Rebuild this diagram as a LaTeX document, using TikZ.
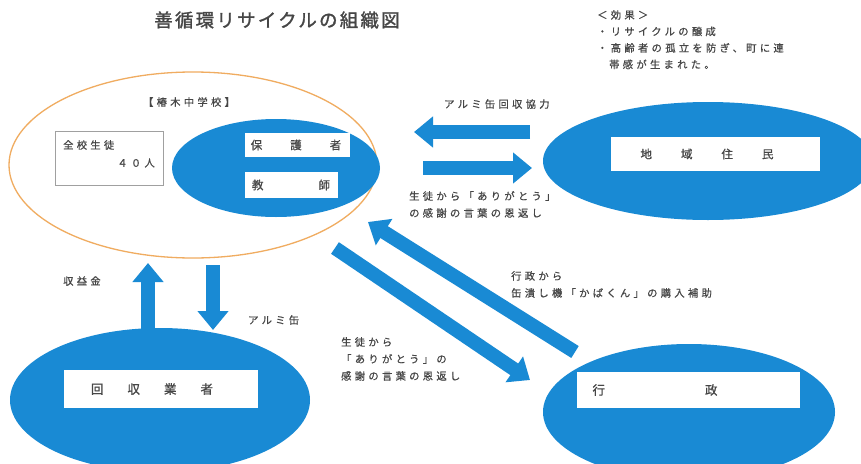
\documentclass[tikz,border=0pt]{standalone}
\usepackage{fontspec}
\setmainfont{Noto Sans CJK JP}
\usetikzlibrary{shapes.geometric,arrows.meta}
\definecolor{fillblue}{RGB}{25,138,212}
\definecolor{ringorange}{RGB}{240,172,96}
\definecolor{txtgray}{RGB}{70,70,70}
\definecolor{boxgray}{RGB}{160,160,160}
\begin{document}
\begin{tikzpicture}[x=1pt,y=-1pt,
  blob/.style={ellipse, fill=fillblue, draw=none, inner sep=0pt},
  wbox/.style={fill=white, draw=none, inner sep=0pt},
  small/.style={font=\fontsize{10.3}{17}\selectfont\addfontfeatures{LetterSpace=32,FakeBold=0.6}, text=txtgray, inner sep=0pt},
  boxtext/.style={font=\fontsize{11.5}{13}\selectfont\addfontfeatures{FakeBold=0.8}, text=txtgray, inner sep=0pt},
  fat/.style={line width=14pt, draw=fillblue, -{Triangle[length=19pt,width=30pt]}}]
\useasboundingbox (0,0) rectangle (861,463);
\fill[white] (0,0) rectangle (861,463);
\clip (0,0) rectangle (861,463);

% title and effects
\node[font=\fontsize{18.5}{20}\selectfont\addfontfeatures{LetterSpace=12,FakeBold=1.5}, text=txtgray, inner sep=0pt] (title) at (277,20) {善循環リサイクルの組織図};
\node[small, anchor=north west, align=left, font=\fontsize{10.3}{16.5}\selectfont\addfontfeatures{LetterSpace=32,FakeBold=0.6}] (effects) at (597,10) {＜効果＞\\・リサイクルの醸成\\・高齢者の孤立を防ぎ、町に連\\\hspace*{12pt}帯感が生まれた。};

% school
\node[ellipse, draw=ringorange, line width=1.3pt, minimum width=368pt, minimum height=186pt, inner sep=0pt] (school) at (193,165) {};
\node[small] (schoolname) at (189,102) {【椿木中学校】};
\node[draw=boxgray, line width=1pt, fill=white, minimum width=108pt, minimum height=54pt, inner sep=0pt] (allbox) at (109,158) {};
\node[small, anchor=west] (allstu) at (63,145) {全校生徒};
\node[small, anchor=east] (forty) at (155,163) {４０人};
\node[blob, minimum width=208pt, minimum height=98pt] (core) at (276,168) {};
\node[wbox, minimum width=105pt, minimum height=24pt] (parentbox) at (297.5,145) {};
\node[boxtext] (parents) at (296,145) {保\hspace{28pt}護\hspace{28pt}者};
\node[wbox, minimum width=93pt, minimum height=26pt] (teacherbox) at (291.5,185) {};
\node[boxtext] (teacher) at (291,185) {教\hspace{55pt}師};

% community
\node[blob, minimum width=330pt, minimum height=118pt] (comm) at (708,161) {};
\node[wbox, minimum width=209pt, minimum height=34pt] (commbox) at (715.5,154) {};
\node[boxtext] (commtext) at (707,154) {地\hspace{29pt}域\hspace{29pt}住\hspace{29pt}民};

% collector
\node[blob, minimum width=300pt, minimum height=144pt] (coll) at (160,400) {};
\node[wbox, minimum width=194pt, minimum height=38pt] (collbox) at (161,389) {};
\node[boxtext, font=\fontsize{12.5}{14}\selectfont\addfontfeatures{FakeBold=0.8}] (colltext) at (152,389) {回\hspace{24pt}収\hspace{24pt}業\hspace{24pt}者};

% government
\node[blob, minimum width=292pt, minimum height=136pt] (gov) at (689,412) {};
\node[wbox, minimum width=223pt, minimum height=36pt] (govbox) at (688.5,390) {};
\node[boxtext, font=\fontsize{12.5}{14}\selectfont\addfontfeatures{FakeBold=0.8}] (govtext) at (655,390) {行\hspace{100pt}政};

% arrows
\coordinate (a1s) at (530,132); \coordinate (a1e) at (414,132);
\coordinate (a2s) at (423,168); \coordinate (a2e) at (532,168);
\coordinate (a3s) at (148,330); \coordinate (a3e) at (148,263);
\coordinate (a4s) at (213,265); \coordinate (a4e) at (213,330);
\coordinate (a5s) at (575,352); \coordinate (a5e) at (368,222);
\coordinate (a6s) at (335,248); \coordinate (a6e) at (530,380);
\draw[fat] (a1s) -- (a1e);
\draw[fat] (a2s) -- (a2e);
\draw[fat] (a3s) -- (a3e);
\draw[fat] (a4s) -- (a4e);
\draw[fat] (a5s) -- (a5e);
\draw[fat] (a6s) -- (a6e);

% labels
\node[small, anchor=west] (lab1) at (444,104) {アルミ缶回収協力};
\node[small, anchor=north west, align=left] (lab2) at (409,191) {生徒から「ありがとう」\\の感謝の言葉の恩返し};
\node[small, anchor=north west, align=left] (lab3) at (511,271) {行政から\\缶潰し機「かばくん」の購入補助};
\node[small, anchor=north west, align=left] (lab4) at (341,337) {生徒から\\「ありがとう」の\\感謝の言葉の恩返し};
\node[small, anchor=west] (lab5) at (63,281) {収益金};
\node[small, anchor=west] (lab6) at (248,320) {アルミ缶};
\end{tikzpicture}
\end{document}
